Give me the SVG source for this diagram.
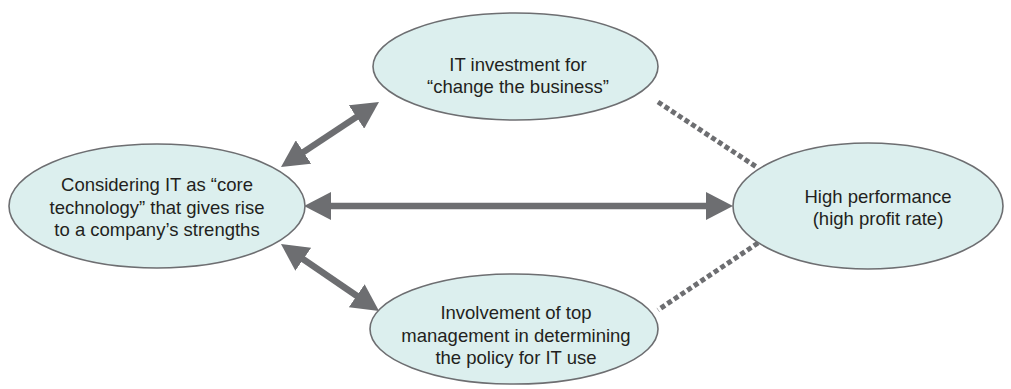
<svg xmlns="http://www.w3.org/2000/svg" width="1011" height="389" viewBox="0 0 1011 389">
<style>
.node ellipse{fill:#dcefee;stroke:#6d6e71;stroke-width:1.6}
.node text{font-family:"Liberation Sans",Arial,sans-serif;font-size:18.5px;fill:#231f20;text-anchor:middle}
.arrow{stroke:#6d6e71;stroke-width:6.5;fill:none}
.dash{stroke:#6d6e71;stroke-width:5;stroke-dasharray:5 3;fill:none}
</style>
<defs>
<marker id="ah" viewBox="0 0 27 28" refX="7" refY="14" markerWidth="27" markerHeight="28" markerUnits="userSpaceOnUse" orient="auto-start-reverse">
<path d="M0,0 L27,14 L0,28 z" fill="#6d6e71"/>
</marker>
</defs>
<g id="connectors">
<line class="arrow" x1="324" y1="206" x2="713" y2="206" marker-start="url(#ah)" marker-end="url(#ah)"/>
<line class="arrow" x1="297.7" y1="155.9" x2="362.3" y2="113.1" marker-start="url(#ah)" marker-end="url(#ah)"/>
<line class="arrow" x1="297.5" y1="255.3" x2="362.5" y2="299.7" marker-start="url(#ah)" marker-end="url(#ah)"/>
<line class="dash" x1="658" y1="102" x2="758" y2="168"/>
<line class="dash" x1="758" y1="243" x2="658" y2="310"/>
</g>
<g id="core" class="node">
<ellipse cx="157" cy="206" rx="148" ry="62"/>
<text x="157" y="191">Considering IT as “core</text>
<text x="157" y="213.5">technology” that gives rise</text>
<text x="157" y="236">to a company’s strengths</text>
</g>
<g id="investment" class="node">
<ellipse cx="515.5" cy="66.5" rx="142.5" ry="53.5"/>
<text x="518" y="71">IT investment for</text>
<text x="518" y="93">“change the business”</text>
</g>
<g id="management" class="node">
<ellipse cx="514" cy="329" rx="144" ry="55"/>
<text x="516" y="319">Involvement of top</text>
<text x="516" y="342">management in determining</text>
<text x="516" y="364">the policy for IT use</text>
</g>
<g id="performance" class="node">
<ellipse cx="868" cy="206" rx="135" ry="63"/>
<text x="878" y="203">High performance</text>
<text x="878" y="225">(high profit rate)</text>
</g>
</svg>
